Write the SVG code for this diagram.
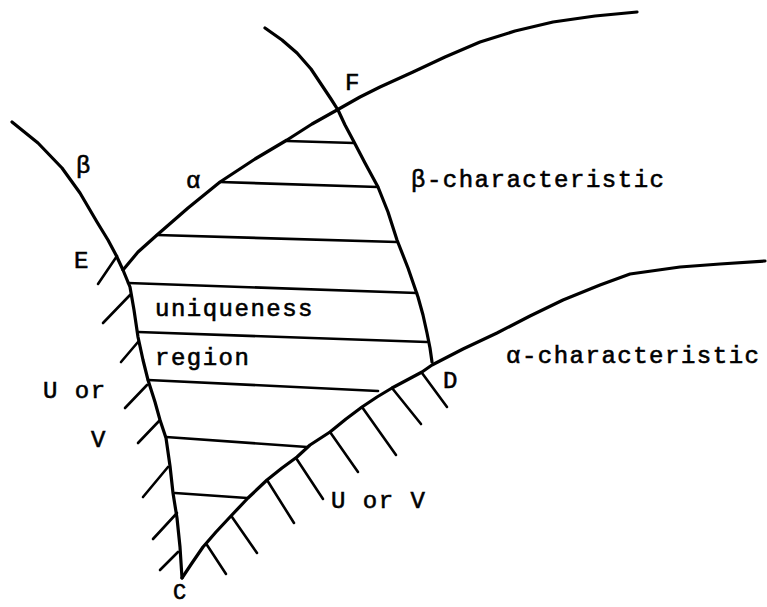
<svg xmlns="http://www.w3.org/2000/svg" width="767" height="607" viewBox="0 0 767 607">
<style>
.c{fill:none;stroke:#000;stroke-width:3.2;stroke-linecap:round;stroke-linejoin:round}
.h{fill:none;stroke:#000;stroke-width:2.6;stroke-linecap:round}
.t{font-family:"Liberation Mono","DejaVu Sans Mono",monospace;font-size:24px;letter-spacing:1.5px;fill:#000;stroke:#000;stroke-width:0.6}
</style>
<rect width="767" height="607" fill="#fff"/>
<g id="curves">
<polyline id="beta-left" class="c" points="12,122 38,143 62,168 80,193 97,222 108,240 116,255 123,270 130,287 134,310 138,337 143,360 148,380 155,402 160,420 166,438 170,466 173,493 177,518 180,547 182,578"/>
<polyline id="alpha-upper" class="c" points="123,270 138,252 157,235 188,208 220,182 255,159 287,140 312,124 337,110 360,97 380,87 413,72 445,57 480,42 515,31 553,22 595,16 637,12"/>
<polyline id="beta-right" class="c" points="265,28 282,40 297,53 311,69 323,87 331,99 338,110 345,125 353,140 365,163 378,187 388,212 397,240 408,268 418,297 423,315 427,333 430,348 432,362"/>
<polyline id="alpha-lower" class="c" points="182,578 192,563 203,547 216,532 230,517 248,498 267,480 282,468 297,457 310,445 330,432 346,419 362,407 377,397 392,388 407,380 422,372 432,365 463,349 497,333 530,316 563,300 600,285 630,274 680,267 720,264 765,261"/>
</g>
<g id="interior-lines">
<line class="h" x1="287" y1="141" x2="354" y2="143"/>
<line class="h" x1="220" y1="182" x2="378" y2="187"/>
<line class="h" x1="157" y1="235" x2="397" y2="242"/>
<line class="h" x1="128" y1="283" x2="417" y2="293"/>
<line class="h" x1="138" y1="332" x2="427" y2="342"/>
<line class="h" x1="148" y1="380" x2="378" y2="391"/>
<line class="h" x1="166" y1="437" x2="307" y2="447"/>
<line class="h" x1="175" y1="493" x2="247" y2="498"/>
</g>
<g id="hatch-left">
<line class="h" x1="98" y1="284" x2="117" y2="256"/>
<line class="h" x1="103" y1="323" x2="130" y2="295"/>
<line class="h" x1="121" y1="362" x2="138" y2="342"/>
<line class="h" x1="125" y1="408" x2="147" y2="385"/>
<line class="h" x1="138" y1="443" x2="160" y2="420"/>
<line class="h" x1="143" y1="497" x2="168" y2="467"/>
<line class="h" x1="153" y1="539" x2="177" y2="513"/>
<line class="h" x1="160" y1="570" x2="178" y2="552"/>
</g>
<g id="hatch-lower">
<line class="h" x1="207" y1="545" x2="226" y2="574"/>
<line class="h" x1="232" y1="517" x2="257" y2="553"/>
<line class="h" x1="267" y1="480" x2="294" y2="523"/>
<line class="h" x1="296" y1="458" x2="323" y2="499"/>
<line class="h" x1="330" y1="432" x2="358" y2="472"/>
<line class="h" x1="362" y1="407" x2="396" y2="455"/>
<line class="h" x1="392" y1="388" x2="421" y2="424"/>
<line class="h" x1="422" y1="373" x2="447" y2="407"/>
</g>
<g id="labels" class="t">
<text x="76" y="173">β</text>
<text x="186" y="188">α</text>
<text x="345" y="90">F</text>
<text x="74" y="268">E</text>
<text x="411" y="187">β-characteristic</text>
<text x="155" y="316">uniqueness</text>
<text x="155" y="365">region</text>
<text x="506" y="363">α-characteristic</text>
<text x="443" y="388">D</text>
<text x="43" y="398">U or</text>
<text x="91" y="447">V</text>
<text x="331" y="508">U or V</text>
<text x="173" y="599" font-size="22">C</text>
</g>
</svg>
